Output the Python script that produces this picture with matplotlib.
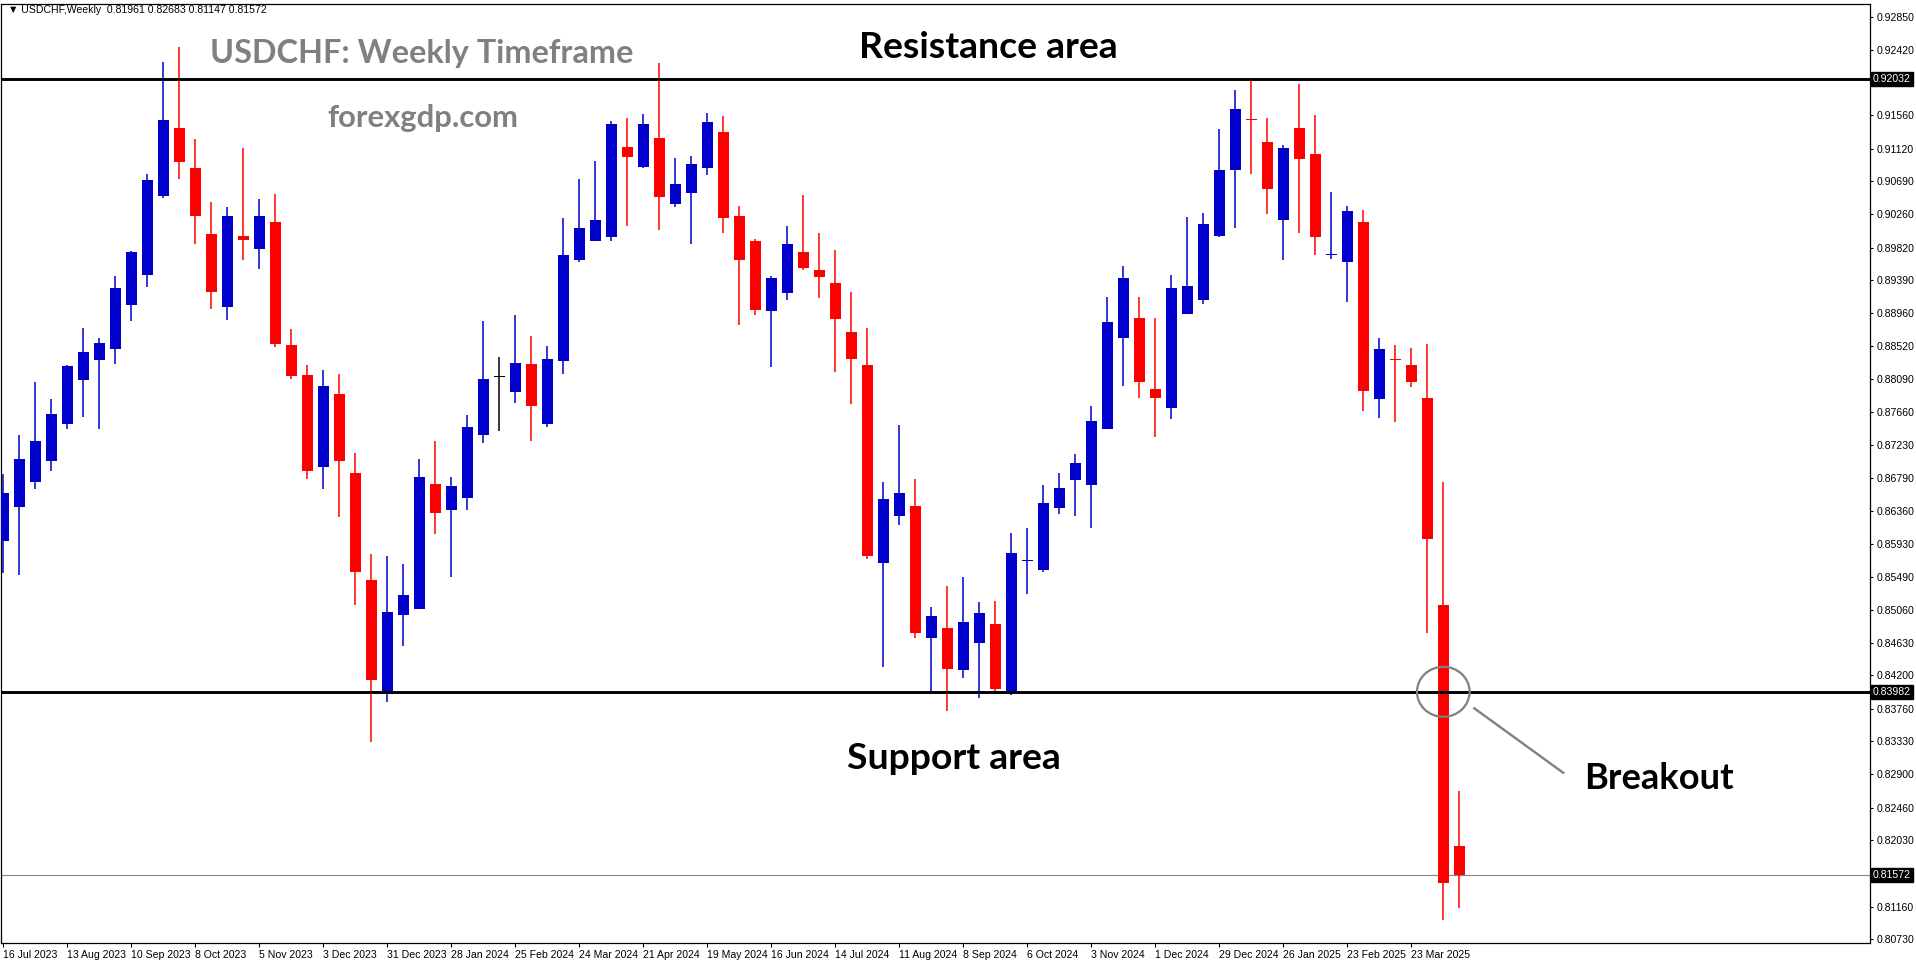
import matplotlib
matplotlib.use("Agg")
import matplotlib.pyplot as plt
from matplotlib.patches import Ellipse
from matplotlib.transforms import blended_transform_factory

# weekly candles, 16 Jul 2023 .. 13 Apr 2025
opens = [0.85959, 0.86417, 0.86733, 0.87019, 0.87507, 0.88085, 0.88347, 0.88481, 0.89059, 0.89465,
         0.90492, 0.91390, 0.90865, 0.90000, 0.89045, 0.89971, 0.89795, 0.90155, 0.88542, 0.88143,
         0.86940, 0.87896, 0.86858, 0.85450, 0.83954, 0.84986, 0.85074, 0.86711, 0.86365, 0.86535,
         0.87363, 0.88114, 0.87926, 0.88290, 0.87505, 0.88334, 0.89661, 0.89911, 0.89963, 0.91142,
         0.90879, 0.91260, 0.90393, 0.90537, 0.90870, 0.91339, 0.90235, 0.89905, 0.88980, 0.89229,
         0.89764, 0.89525, 0.89354, 0.88709, 0.88278, 0.85680, 0.86298, 0.86423, 0.84692, 0.84822,
         0.84271, 0.84630, 0.84874, 0.83966, 0.85700, 0.85587, 0.86401, 0.86768, 0.86704, 0.87442,
         0.88637, 0.88895, 0.87963, 0.87718, 0.88949, 0.89135, 0.89977, 0.90846, 0.91497, 0.91206,
         0.90188, 0.91395, 0.91048, 0.89717, 0.89637, 0.90158, 0.87834, 0.88343, 0.88279, 0.87842,
         0.85118, 0.81961]
highs = [0.86843, 0.87358, 0.88056, 0.87831, 0.88276, 0.88763, 0.88629, 0.89446, 0.89776, 0.90788,
         0.92260, 0.92455, 0.91247, 0.90420, 0.90354, 0.91127, 0.90459, 0.90525, 0.88747, 0.88278,
         0.88213, 0.88161, 0.87122, 0.85790, 0.85767, 0.85661, 0.87040, 0.87281, 0.86805, 0.87621,
         0.88853, 0.88382, 0.88934, 0.88658, 0.88526, 0.90204, 0.90721, 0.90958, 0.91483, 0.91523,
         0.91575, 0.92246, 0.90997, 0.91023, 0.91589, 0.91549, 0.90366, 0.89931, 0.89447, 0.90102,
         0.90513, 0.90014, 0.89790, 0.89234, 0.88761, 0.86740, 0.87488, 0.86776, 0.85098, 0.85373,
         0.85492, 0.85160, 0.85175, 0.86070, 0.86134, 0.86700, 0.86858, 0.87107, 0.87736, 0.89171,
         0.89578, 0.89171, 0.88895, 0.89461, 0.90221, 0.90275, 0.91380, 0.91891, 0.92010, 0.91523,
         0.91168, 0.91968, 0.91561, 0.90550, 0.90361, 0.90316, 0.88634, 0.88536, 0.88498, 0.88551,
         0.86740, 0.82683]
lows = [0.85538, 0.85515, 0.86642, 0.86890, 0.87430, 0.87588, 0.87440, 0.88295, 0.88849, 0.89307,
        0.90473, 0.90726, 0.89862, 0.89016, 0.88873, 0.89651, 0.89532, 0.88519, 0.88096, 0.86782,
        0.86653, 0.86283, 0.85127, 0.83320, 0.83854, 0.84588, 0.85074, 0.86060, 0.85497, 0.86365,
        0.87257, 0.87413, 0.87781, 0.87282, 0.87466, 0.88163, 0.89635, 0.89911, 0.89906, 0.90108,
        0.90870, 0.90051, 0.90358, 0.89871, 0.90778, 0.90016, 0.88805, 0.88928, 0.88257, 0.89125,
        0.89525, 0.89151, 0.88179, 0.87758, 0.85721, 0.84313, 0.86168, 0.84692, 0.83980, 0.83731,
        0.84167, 0.83897, 0.83965, 0.83940, 0.85270, 0.85559, 0.86324, 0.86297, 0.86139, 0.87442,
        0.88003, 0.87849, 0.87333, 0.87573, 0.88949, 0.89072, 0.89963, 0.90081, 0.90784, 0.90263,
        0.89652, 0.90007, 0.89720, 0.89675, 0.89109, 0.87668, 0.87578, 0.87532, 0.87985, 0.84749,
        0.80977, 0.81147]
closes = [0.86589, 0.87043, 0.87277, 0.87636, 0.88266, 0.88448, 0.88567, 0.89288, 0.89761, 0.90707,
          0.91495, 0.90951, 0.90229, 0.89231, 0.90234, 0.89924, 0.90234, 0.88548, 0.88137, 0.86887,
          0.88002, 0.87011, 0.85561, 0.84142, 0.85033, 0.85256, 0.86805, 0.86336, 0.86688, 0.87462,
          0.88090, 0.88114, 0.88303, 0.87742, 0.88355, 0.89722, 0.90077, 0.90182, 0.91444, 0.91015,
          0.91444, 0.90489, 0.90655, 0.90918, 0.91470, 0.90213, 0.89658, 0.89006, 0.89421, 0.89868,
          0.89556, 0.89437, 0.88886, 0.88361, 0.85773, 0.86516, 0.86594, 0.84760, 0.84978, 0.84287,
          0.84900, 0.85019, 0.84017, 0.85805, 0.85708, 0.86465, 0.86659, 0.86990, 0.87542, 0.88841,
          0.89420, 0.88058, 0.87849, 0.89289, 0.89316, 0.90131, 0.90841, 0.91642, 0.91490, 0.90588,
          0.91131, 0.90980, 0.89954, 0.89722, 0.90301, 0.87932, 0.88483, 0.88338, 0.88060, 0.85986,
          0.81474, 0.81572]

date_labels = ["16 Jul 2023", "13 Aug 2023", "10 Sep 2023", "8 Oct 2023", "5 Nov 2023", "3 Dec 2023",
               "31 Dec 2023", "28 Jan 2024", "25 Feb 2024", "24 Mar 2024", "21 Apr 2024", "19 May 2024",
               "16 Jun 2024", "14 Jul 2024", "11 Aug 2024", "8 Sep 2024", "6 Oct 2024", "3 Nov 2024",
               "1 Dec 2024", "29 Dec 2024", "26 Jan 2025", "23 Feb 2025", "23 Mar 2025"]
price_ticks = [0.92850, 0.92420, 0.91990, 0.91560, 0.91120, 0.90690, 0.90260, 0.89820, 0.89390,
               0.88960, 0.88520, 0.88090, 0.87660, 0.87230, 0.86790, 0.86360, 0.85930, 0.85490,
               0.85060, 0.84630, 0.84200, 0.83760, 0.83330, 0.82900, 0.82460, 0.82030, 0.81600,
               0.81160, 0.80730]
hidden_ticks = [0.91990, 0.81600]  # covered by the price tags

resistance = 0.92032
support = 0.83982
last_price = 0.81572
breakout_idx = 90

W, H = 1916, 964
BULL = "#0000CD"
BEAR = "#FF0000"
small_font = ["Liberation Sans Narrow", "Liberation Sans", "DejaVu Sans"]

fig = plt.figure(figsize=(W / 100, H / 100), dpi=100)
ax = fig.add_axes([1 / W, (H - 943) / H, 1869 / W, 939 / H])

xs = list(range(len(opens)))
colors, bottoms, heights = [], [], []
for o, c in zip(opens, closes):
    if c > o:
        colors.append(BULL)
    elif c < o:
        colors.append(BEAR)
    else:
        colors.append("black")
    bottoms.append(min(o, c))
    heights.append(max(abs(c - o), 0.00018))

ax.vlines(xs, lows, highs, colors=colors, linewidth=1.1, zorder=2)
ax.bar(xs, heights, bottom=bottoms, width=0.7, color=colors, linewidth=0, zorder=3)

ax.axhline(resistance, color="black", lw=2.1, zorder=4)
ax.axhline(support, color="black", lw=2.1, zorder=4)
ax.axhline(last_price, color="#7d8a99", lw=0.8, zorder=1)

ax.set_xlim(-0.144, 116.67)
ax.set_ylim(0.80681, 0.93021)

for s in ax.spines.values():
    s.set_linewidth(0.9)
    s.set_color("black")

ax.set_xticks(xs[::4][:len(date_labels)])
ax.set_xticklabels(date_labels, ha="left", family=small_font, fontsize=7.6)
ax.tick_params(axis="x", direction="out", length=3, width=0.8, pad=2)

ax.yaxis.tick_right()
ax.set_yticks(price_ticks)
ax.set_yticklabels(["" if p in hidden_ticks else "%.5f" % p for p in price_ticks],
                   family=small_font, fontsize=7.6)
ax.tick_params(axis="y", direction="out", length=2.5, width=0.8, pad=2)

# highlighted price tags on the scale
tr = blended_transform_factory(ax.transAxes, ax.transData)
for p in [resistance, support, last_price]:
    ax.text(1.0015, p, "%.5f" % p, transform=tr, ha="left", va="center", color="white",
            family=small_font, fontsize=7.6, clip_on=False, zorder=20,
            bbox=dict(boxstyle="square,pad=0.2", fc="black", ec="black"))

# breakout marker (sizes given in pixels)
px_x = 16.0
px_y = (0.93021 - 0.80681) / 939
ax.add_patch(Ellipse((breakout_idx, support), width=52.6 / px_x, height=50 * px_y,
                     fill=False, ec="#808080", lw=1.6, zorder=6))
ax.plot([breakout_idx + 31 / px_x, breakout_idx + 120 / px_x],
        [support - 16.5 * px_y, support - 81 * px_y], color="#808080", lw=1.7, zorder=6)

fig.text(8 / W, 1 - 10 / H, "\u25bc USDCHF,Weekly  0.81961 0.82683 0.81147 0.81572",
         family=small_font, fontsize=7.6, va="center", ha="left")

renderer = fig.canvas.get_renderer()


def label(x, y, s, width, color):
    t = fig.text(x / W, 1 - y / H, s, family=["Lato", "DejaVu Sans"], weight="bold",
                 fontsize=20, color=color, ha="left", va="baseline")
    w = t.get_window_extent(renderer).width
    t.set_fontsize(20 * width / w)
    return t


label(210, 63, "USDCHF: Weekly Timeframe", 423, "#808080")
label(327, 127, "forexgdp.com", 191, "#808080")
label(859, 58, "Resistance area", 259, "black")
label(847, 769, "Support area", 214, "black")
label(1584, 789, "Breakout", 149, "black")

fig.savefig("out.png", dpi=100)
